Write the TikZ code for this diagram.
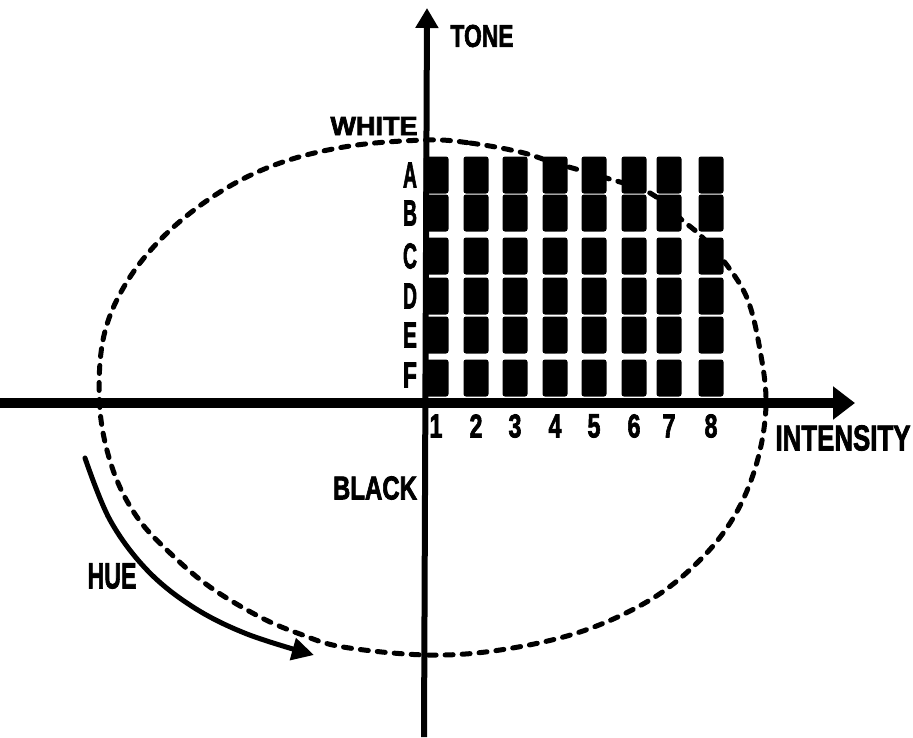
\documentclass[tikz,border=0pt]{standalone}
\usepackage{fontspec}
\setmainfont{Liberation Sans}
\newfontfamily\heavy{Liberation Sans}[BoldFeatures={FakeBold=2.5}]
\usetikzlibrary{arrows.meta}
\newcommand\fitbox[3]{\resizebox{#1pt}{#2pt}{\heavy\bfseries #3}}
\begin{document}
\begin{tikzpicture}[x=1pt,y=-1pt,
  lab/.style={inner sep=0pt,outer sep=0pt},
  cell/.style={fill=black,draw=none,minimum width=25pt,minimum height=37pt,rounded corners=2.5pt,inner sep=0pt},
  axis/.style={line width=#1,draw=black},
  egg/.style={line width=5pt,dash pattern=on 8pt off 9pt,line cap=round},
  huearrow/.style={line width=5pt,line cap=round,-{Triangle[length=22pt,width=22pt]}}]
\useasboundingbox (0,0) rectangle (913,737);
% dashed hue circle
\draw[egg] plot[smooth cycle,tension=0.6] coordinates {
 (427,140) (470,143) (520,152) (555,163) (603,177) (650,193) (682,220) (700,235)
 (723,260) (747,298) (760,350) (766,405) (757,462) (735,515) (700,560) (650,600)
 (580,632) (500,650) (427,655) (343,647) (300,634) (260,617) (210,587) (170,553)
 (137,517) (113,470) (100,410) (103,340) (125,285) (165,235) (220,192) (280,163) (350,146)};
% squares
\foreach \c/\x in {1/436,2/476,3/515,4/555,5/594,6/634,7/669,8/711}{
  \foreach \r/\y in {A/175,B/213,C/256,D/296,E/335,F/378}{
    \node[cell] (s-\c-\r) at (\x,\y) {};
  }
  \node[lab] (n-\c) at (\x,426) {\fitbox{13}{23}{\c}};
}
\foreach \r/\y in {A/175,B/213,C/256,D/296,E/335,F/375}{
  \node[lab] (l-\r) at (410,\y) {\fitbox{14}{25}{\r}};
}
% axes
\coordinate (xs) at (0,403);
\coordinate (xe) at (855,403);
\coordinate (ys) at (424,737);
\coordinate (ye) at (427,8);
\draw[axis=10pt,-{Triangle[length=22pt,width=32pt]}] (xs) -- (xe);
\draw[axis=6pt,-{Triangle[length=20pt,width=22pt]}] (ys) -- (ye);
% labels
\node[lab] (tone) at (482,36) {\fitbox{63}{22}{TONE}};
\node[lab] (white) at (374,126) {\fitbox{87}{18}{WHITE}};
\node[lab] (black) at (375,488) {\fitbox{84}{23}{BLACK}};
\node[lab] (hue) at (112,576) {\fitbox{49}{25}{HUE}};
\node[lab] (intensity) at (843,438) {\fitbox{135}{25}{INTENSITY}};
% hue arrow
\draw[huearrow] plot[smooth,tension=0.6] coordinates {(85,458) (110,520) (147,570) (193,607) (247,634) (314,655)};
\end{tikzpicture}
\end{document}
